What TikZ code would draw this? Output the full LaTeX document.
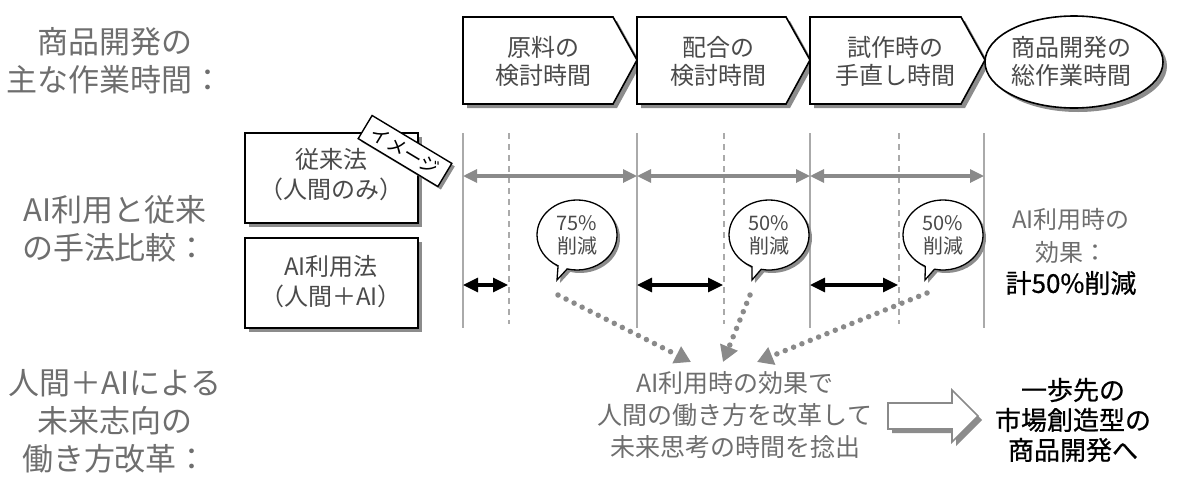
\documentclass[tikz,border=0pt]{standalone}
\usepackage{fontspec}
\setmainfont{Noto Sans CJK JP}
\newfontfamily\jpb[FakeBold=0.7]{Noto Sans CJK JP}
\usetikzlibrary{arrows.meta,shapes.callouts,shapes.geometric}
\definecolor{txtgray}{HTML}{6E6E6E}
\definecolor{chtxt}{HTML}{4A4A4A}
\definecolor{linegray}{HTML}{AAAAAA}
\definecolor{arrgray}{HTML}{8A8A8A}
\definecolor{shd}{HTML}{8C8C8C}
\begin{document}
\begin{tikzpicture}[x=1pt,y=-1pt,
  lbl/.style={text=txtgray, font=\fontsize{31}{38}\selectfont, align=center, inner sep=0},
  chevtxt/.style={text=chtxt, font=\fontsize{24}{28}\selectfont, align=center, inner sep=0},
  shapebox/.style={draw=black, fill=white, line width=1.6},
  shadowfill/.style={fill=shd, draw=none},
  boxtxt/.style={text=chtxt, font=\fontsize{24}{30}\selectfont, align=center, inner sep=0},
  bubbleshape/.style={ellipse callout, minimum width=80, minimum height=70, inner sep=0, callout pointer arc=14},
  bubble/.style={bubbleshape, draw=black, fill=white, line width=1.3,
     text=chtxt, font=\fontsize{20}{23}\selectfont, align=center},
  vsolid/.style={draw=linegray, line width=1.5},
  vdash/.style={draw=linegray, line width=1.5, dash pattern=on 6pt off 5pt},
  grayarr/.style={draw=arrgray, line width=3.2, {Triangle[length=14pt,width=13pt]}-{Triangle[length=14pt,width=13pt]}},
  blackarr/.style={draw=black, line width=3.2, {Triangle[length=15pt,width=14pt]}-{Triangle[length=15pt,width=14pt]}},
  dotarr/.style={draw=arrgray, line width=5.5, line cap=round, dash pattern=on 0pt off 9pt, -{Triangle[length=16pt,width=18pt]}},
  ]
\useasboundingbox (0,0) rectangle (1200,501);

% left labels
\node[lbl] (L1) at (115,61) {商品開発の\\主な作業時間：};
\node[lbl] (L2) at (115,229) {AI利用と従来\\の手法比較：};
\node[lbl] (L3) at (115,421) {人間＋AIによる\\未来志向の\\働き方改革：};

% chevrons (shadows first)
\begin{scope}[shift={(4,4)}]
\fill[shadowfill] (463,17) -- (613,17) -- (637,60) -- (613,104) -- (463,104) -- cycle;
\fill[shadowfill] (637,17) -- (786,17) -- (810,60) -- (786,104) -- (637,104) -- cycle;
\fill[shadowfill] (810,17) -- (961,17) -- (985,60) -- (961,104) -- (810,104) -- cycle;
\end{scope}
\node[shadowfill, ellipse, minimum width=178, minimum height=92, inner sep=0] (Es) at (1078,66) {};
\draw[shapebox] (463,17) -- (613,17) -- (637,60) -- (613,104) -- (463,104) -- cycle;
\draw[shapebox] (637,17) -- (786,17) -- (810,60) -- (786,104) -- (637,104) -- cycle;
\draw[shapebox] (810,17) -- (961,17) -- (985,60) -- (961,104) -- (810,104) -- cycle;
\node[shapebox, ellipse, minimum width=178, minimum height=92, inner sep=0] (E) at (1074,62) {};
\node[chevtxt] (c1) at (543,61) {原料の\\検討時間};
\node[chevtxt] (c2) at (718,61) {配合の\\検討時間};
\node[chevtxt] (c3) at (895,61) {試作時の\\手直し時間};
\node[chevtxt] (c4) at (1071,61) {商品開発の\\総作業時間};

% method boxes
\node[shadowfill, minimum width=173, minimum height=90, inner sep=0] (B1s) at (335.5,182) {};
\node[shadowfill, minimum width=173, minimum height=90, inner sep=0] (B2s) at (335.5,287) {};
\node[shapebox, minimum width=173, minimum height=90, inner sep=0] (B1) at (331.5,178) {};
\node[boxtxt] (B1t) at (331,175) {従来法\\（人間のみ）};
\node[shapebox, minimum width=173, minimum height=90, inner sep=0] (B2) at (331.5,283) {};
\node[boxtxt] (B2t) at (331,282) {AI利用法\\（人間＋AI）};

% tag
\node[shadowfill, rotate=-31, minimum width=93, minimum height=27, inner sep=0] (tags) at (408,154) {};
\node[draw=black, fill=white, line width=1.4, rotate=-31, minimum width=93, minimum height=27,
  inner sep=0, font=\fontsize{19}{19}\selectfont] (tag) at (405,151) {イメージ};

% vertical lines
\coordinate (v1t) at (463,133); \coordinate (v1b) at (463,328);
\coordinate (v2t) at (637,133); \coordinate (v2b) at (637,328);
\coordinate (v3t) at (810,133); \coordinate (v3b) at (810,328);
\coordinate (v4t) at (984,133); \coordinate (v4b) at (984,328);
\coordinate (d1t) at (509,133); \coordinate (d1b) at (509,324);
\coordinate (d2t) at (724,133); \coordinate (d2b) at (724,324);
\coordinate (d3t) at (899,133); \coordinate (d3b) at (899,324);
\foreach \n in {v1,v2,v3,v4} \draw[vsolid] (\n t) -- (\n b);
\foreach \n in {d1,d2,d3} \draw[vdash] (\n t) -- (\n b);

% gray arrows (conventional)
\coordinate (g1) at (463,176); \coordinate (g2) at (637,176);
\coordinate (g3) at (810,176); \coordinate (g4) at (984,176);
\draw[grayarr] (g1) -- (g2);
\draw[grayarr] (g2) -- (g3);
\draw[grayarr] (g3) -- (g4);

% black arrows (AI)
\coordinate (k1a) at (463,285); \coordinate (k1b) at (508,285);
\coordinate (k2a) at (637,285); \coordinate (k2b) at (723,285);
\coordinate (k3a) at (810,285); \coordinate (k3b) at (898,285);
\draw[blackarr] (k1a) -- (k1b);
\draw[blackarr] (k2a) -- (k2b);
\draw[blackarr] (k3a) -- (k3b);

% bubbles
\node[bubbleshape, shadowfill, callout absolute pointer={(560,283)}] (S1s) at (580,238) {};
\node[bubbleshape, shadowfill, callout absolute pointer={(755,283)}] (S2s) at (772,238) {};
\node[bubbleshape, shadowfill, callout absolute pointer={(928,283)}] (S3s) at (946,238) {};
\node[bubble, callout absolute pointer={(557,280)}] (S1) at (577,235) {75\%\\削減};
\node[bubble, callout absolute pointer={(752,280)}] (S2) at (769,235) {50\%\\削減};
\node[bubble, callout absolute pointer={(925,280)}] (S3) at (943,235) {50\%\\削減};

% effect text
\node[text=txtgray, font=\fontsize{24}{33}\selectfont, align=center, inner sep=0] (EF) at (1071,236) {AI利用時の\\効果：};
\node[text=black, font=\fontsize{26}{30}\jpb, inner sep=0] (EF2) at (1071,283) {計50\%削減};

% bottom middle text
\node[text=txtgray, font=\fontsize{25}{32}\selectfont, align=center, inner sep=0] (M) at (735,415) {AI利用時の効果で\\人間の働き方を改革して\\未来思考の時間を捻出};

% dotted arrows
\coordinate (s1) at (558,295); \coordinate (t1) at (691,362);
\coordinate (s2) at (750,295); \coordinate (t2) at (723,362);
\coordinate (s3) at (927,293); \coordinate (t3) at (757,362);
\draw[dotarr] (s1) -- (t1);
\draw[dotarr] (s2) -- (t2);
\draw[dotarr] (s3) -- (t3);

% hollow arrow
\fill[shadowfill, shift={(4,4)}]
  (888,403) -- (952,403) -- (952,390) -- (978,416) -- (952,442) -- (952,429) -- (888,429) -- cycle;
\draw[draw=arrgray, fill=white, line width=1.6]
  (888,403) -- (952,403) -- (952,390) -- (978,416) -- (952,442) -- (952,429) -- (888,429) -- cycle;

% final text
\node[text=black, font=\fontsize{26}{30}\jpb, align=center, inner sep=0] (F) at (1073,420) {一歩先の\\市場創造型の\\商品開発へ};
\end{tikzpicture}
\end{document}
